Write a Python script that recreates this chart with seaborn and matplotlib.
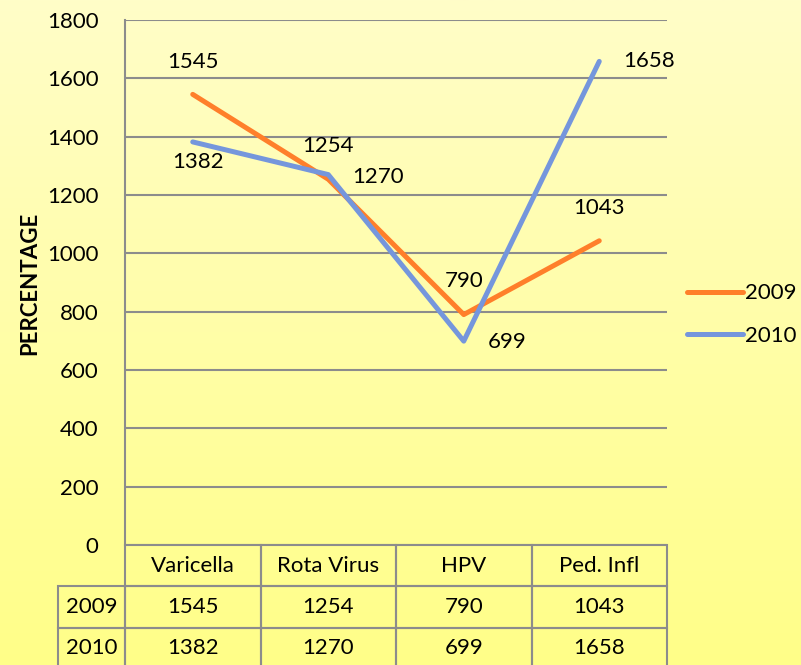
import numpy as np
import pandas as pd
import matplotlib.pyplot as plt
import seaborn as sns
from matplotlib.colors import LinearSegmentedColormap

categories = ['Varicella', 'Rota Virus', 'HPV', 'Ped. Infl']
years = ['2009', '2010']
values_2009 = [1545, 1254, 790, 1043]
values_2010 = [1382, 1270, 699, 1658]
y_ticks = [0, 200, 400, 600, 800, 1000, 1200, 1400, 1600, 1800]

colors = {'2009': '#FF7F2A', '2010': '#7596DC'}
grid_col = '#8c8c8c'

# label offsets (pixels) around each point
offsets = {
    '2009': [(0, 32), (0, 33), (0, 34), (0, 33)],
    '2010': [(5, -20), (50, -2), (43, -1), (50, 0)],
}

df = pd.DataFrame({
    'Category': categories * 2,
    'Year': ['2009'] * 4 + ['2010'] * 4,
    'Value': values_2009 + values_2010,
})

plt.rcParams['font.family'] = ['Lato', 'DejaVu Sans']
fs = 16

fig = plt.figure(figsize=(8.01, 6.65), dpi=100)

# yellow gradient background
bg = fig.add_axes([0, 0, 1, 1], zorder=-10)
grad = np.linspace(0, 1, 256).reshape(-1, 1)
cmap = LinearSegmentedColormap.from_list('bg', ['#FFFDC8', '#FFFF88'])
bg.imshow(grad, aspect='auto', cmap=cmap, extent=[0, 1, 0, 1])
bg.axis('off')

W, H = 801, 665
ax = fig.add_axes([125 / W, 1 - 545 / H, 542 / W, 525 / H])
ax.patch.set_alpha(0)

sns.lineplot(data=df, x='Category', y='Value', hue='Year', palette=colors,
             linewidth=3.6, sort=False, errorbar=None, ax=ax)

for line in ax.get_lines():
    line.set_solid_capstyle('round')

ax.set_xlim(-0.5, 3.5)
ax.set_ylim(0, 1800)
ax.set_yticks(y_ticks)
ax.set_xticks(range(len(categories)))
ax.tick_params(axis='x', length=0, labelbottom=False)
ax.tick_params(axis='y', length=0, labelsize=fs, pad=19)
ax.yaxis.grid(True, color=grid_col, linewidth=1.5)
ax.set_axisbelow(True)
for s in ['top', 'right', 'bottom']:
    ax.spines[s].set_visible(False)
ax.spines['left'].set_color(grid_col)
ax.spines['left'].set_linewidth(1.5)
ax.set_xlabel('')
ax.set_ylabel('')

# value labels
for yr, vals in zip(years, [values_2009, values_2010]):
    for i, v in enumerate(vals):
        ax.annotate(str(v), (i, v), xytext=offsets[yr][i], textcoords='offset pixels',
                    ha='center', va='center', fontsize=fs)

fig.text(30 / W, 1 - 283 / H, 'PERCENTAGE', rotation=90, ha='center', va='center',
         fontsize=fs, fontweight='bold')

# legend
handles, labels = ax.get_legend_handles_labels()
ax.get_legend().remove()
fig.legend(handles, labels, loc='center left', bbox_to_anchor=(687 / W, 1 - 314.5 / H),
           frameon=False, fontsize=fs, handlelength=2.5, handletextpad=0.1,
           borderpad=0, borderaxespad=0, labelspacing=1.0)

# data table
cell_text = [[''] + categories,
             ['2009'] + [str(v) for v in values_2009],
             ['2010'] + [str(v) for v in values_2010]]
widths = [67] + [135.5] * 4
tot = sum(widths)
tbl = ax.table(cellText=cell_text, cellLoc='center',
               colWidths=[w / tot for w in widths],
               bbox=[-67 / 542, -124 / 525, tot / 542, 124 / 525])
tbl.auto_set_font_size(False)
tbl.set_fontsize(fs)
for (r, c), cell in tbl.get_celld().items():
    cell.set_facecolor('none')
    cell.set_edgecolor(grid_col)
    cell.set_linewidth(1.5)
    if r == 0 and c == 0:
        cell.set_edgecolor('none')

fig.savefig('out.png', dpi=100)
